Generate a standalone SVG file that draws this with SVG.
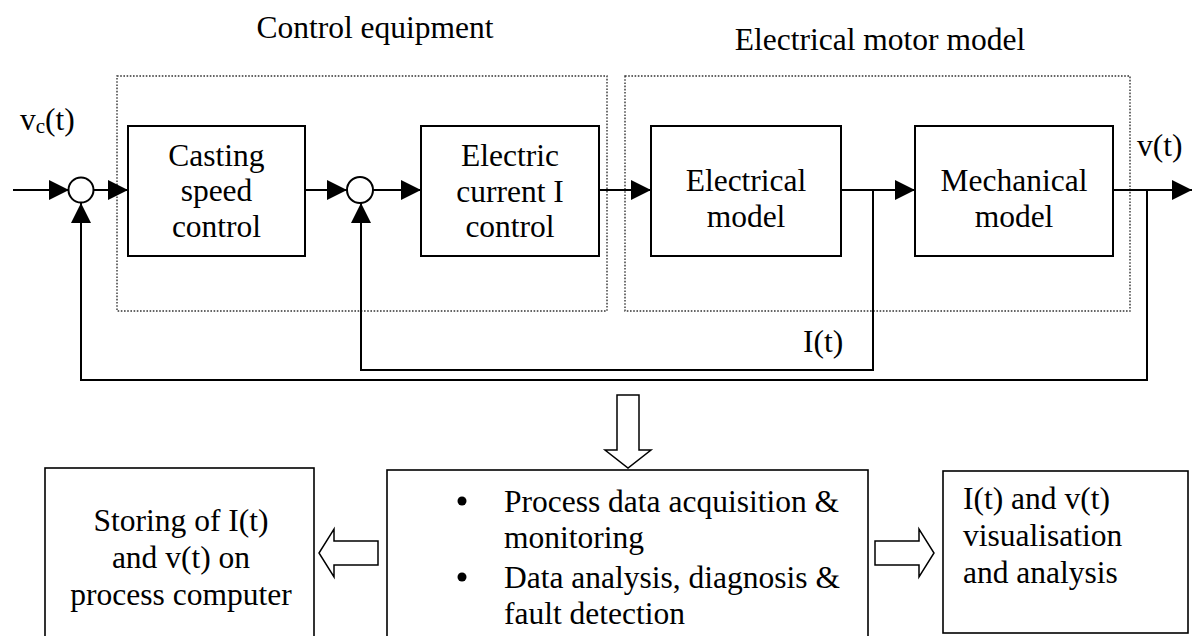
<svg xmlns="http://www.w3.org/2000/svg" width="1192" height="636" viewBox="0 0 1192 636">
<style>
text{font-family:"Liberation Serif","Tinos","Times New Roman",Times,"DejaVu Serif","Noto Serif",serif;font-size:31.5px;fill:#000}
.c{text-anchor:middle}
.blk{fill:#fff;stroke:#000;stroke-width:2}
.box{fill:#fff;stroke:#000;stroke-width:1.6}
.dot{fill:none;stroke:#333;stroke-width:1.4;stroke-dasharray:1.6 1.6}
.ln{fill:none;stroke:#000;stroke-width:2}
.hol{fill:#fff;stroke:#000;stroke-width:1.5;stroke-linejoin:miter}
</style>
<defs>
<marker id="ah" markerUnits="userSpaceOnUse" markerWidth="20" markerHeight="20" viewBox="0 0 20 20" refX="20" refY="10" orient="auto">
<path d="M0,0 L20,10 L0,20 Z" fill="#000"/>
</marker>
</defs>
<rect width="1192" height="636" fill="#fff"/>

<g id="groups" font-family="Liberation Serif, serif">
<rect class="dot" x="117" y="76" width="490" height="235"/>
<rect class="dot" x="625" y="76" width="505" height="235"/>
<text id="title-control" class="c" x="375" y="38">Control equipment</text>
<text id="title-motor" class="c" x="880" y="50">Electrical motor model</text>
</g>

<g id="connectors">
<line class="ln" x1="13" y1="190" x2="69" y2="190" marker-end="url(#ah)"/>
<line class="ln" x1="94" y1="190" x2="128" y2="190" marker-end="url(#ah)"/>
<line class="ln" x1="305" y1="190" x2="347" y2="190" marker-end="url(#ah)"/>
<line class="ln" x1="373" y1="190" x2="421" y2="190" marker-end="url(#ah)"/>
<line class="ln" x1="599" y1="190" x2="651" y2="190" marker-end="url(#ah)"/>
<line class="ln" x1="841" y1="190" x2="915" y2="190" marker-end="url(#ah)"/>
<line class="ln" x1="1113" y1="190" x2="1192" y2="190" marker-end="url(#ah)"/>
<polyline class="ln" points="873,190 873,370 361,370 361,203" marker-end="url(#ah)"/>
<polyline class="ln" points="1147,190 1147,380 81,380 81,203" marker-end="url(#ah)"/>
<polygon class="hol" points="617,395 639,395 639,450 651,450 628,468 605,450 617,450"/>
<polygon class="hol" points="378,541 378,565 334,565 334,577 319,553 334,529 334,541"/>
<polygon class="hol" points="875,541 919,541 919,529 934,553 919,577 919,565 875,565"/>
</g>

<g id="sum1"><circle cx="81" cy="190" r="12.5" fill="#fff" stroke="#000" stroke-width="2"/></g>
<g id="sum2"><circle cx="360" cy="190" r="13" fill="#fff" stroke="#000" stroke-width="2"/></g>

<g id="casting">
<rect class="blk" x="128" y="126" width="177" height="130"/>
<text class="c" x="216.5" y="166">Casting</text>
<text class="c" x="216.5" y="201">speed</text>
<text class="c" x="216.5" y="237">control</text>
</g>
<g id="current">
<rect class="blk" x="421" y="126" width="178" height="130"/>
<text class="c" x="510" y="166">Electric</text>
<text class="c" x="510" y="202">current I</text>
<text class="c" x="510" y="237">control</text>
</g>
<g id="electrical">
<rect class="blk" x="651" y="126" width="190" height="130"/>
<text class="c" x="746" y="191">Electrical</text>
<text class="c" x="746" y="227">model</text>
</g>
<g id="mechanical">
<rect class="blk" x="915" y="126" width="198" height="130"/>
<text class="c" x="1014" y="191">Mechanical</text>
<text class="c" x="1014" y="227">model</text>
</g>

<g id="labels">
<text x="20" y="130">v<tspan font-size="21" dy="3">c</tspan><tspan dy="-3">(t)</tspan></text>
<text x="1137" y="156">v(t)</text>
<text x="803" y="352">I(t)</text>
</g>

<g id="storing">
<rect class="box" x="45" y="468" width="269" height="175"/>
<text class="c" x="181" y="531">Storing of I(t)</text>
<text class="c" x="181" y="568">and v(t) on</text>
<text class="c" x="181" y="605">process computer</text>
</g>
<g id="analysis">
<rect class="box" x="387" y="470" width="481" height="175"/>
<circle cx="462" cy="501" r="4.5" fill="#000"/>
<circle cx="462" cy="577" r="4.5" fill="#000"/>
<text x="504" y="512">Process data acquisition &amp;</text>
<text x="504" y="548">monitoring</text>
<text x="504" y="588">Data analysis, diagnosis &amp;</text>
<text x="504" y="624">fault detection</text>
</g>
<g id="visualisation">
<rect class="box" x="943" y="471" width="245" height="162"/>
<text x="963" y="509">I(t) and v(t)</text>
<text x="963" y="546">visualisation</text>
<text x="963" y="583">and analysis</text>
</g>
</svg>
